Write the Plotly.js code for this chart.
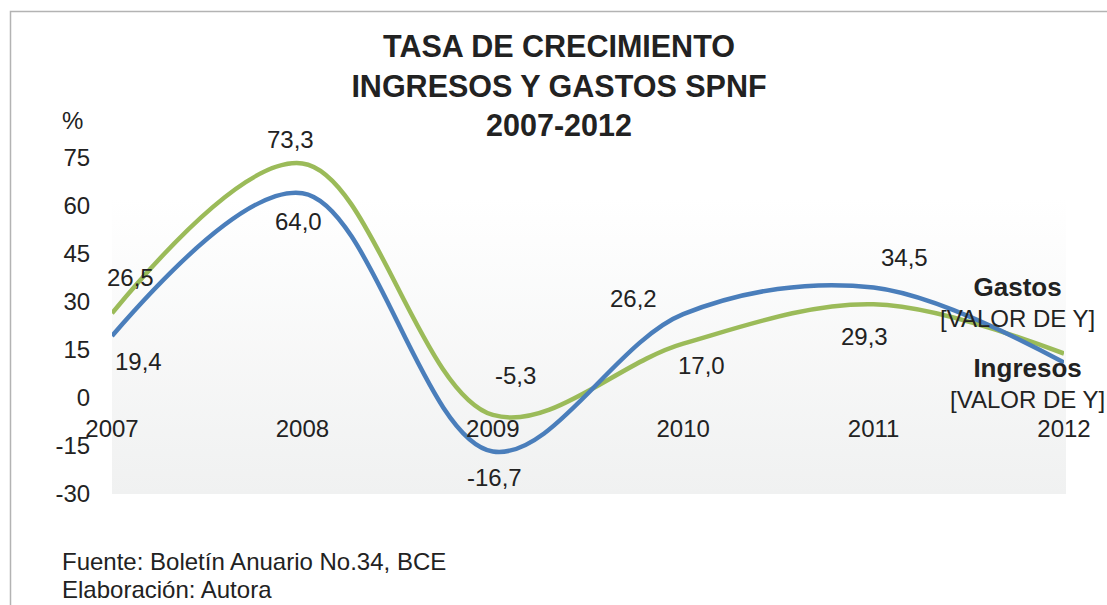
<!DOCTYPE html>
<html>
<head>
<meta charset="utf-8">
<script src="https://cdn.plot.ly/plotly-3.0.1.min.js"></script>
<style>html,body{margin:0;padding:0;background:#fff;}#chart{width:1107px;height:605px;}</style>
</head>
<body>
<div id="chart"></div>
<script>
// ---- data ----
const years = ["2007", "2008", "2009", "2010", "2011", "2012"];
const gastos = [26.5, 73.3, -5.3, 17.0, 29.3, 13.9];     // green
const ingresos = [19.4, 64.0, -16.7, 26.2, 34.5, 11.1];  // blue
const gastosLabels = ["26,5", "73,3", "-5,3", "17,0", "29,3",
  "<span style='font-size:26px'><b>Gastos</b></span><br>[VALOR DE Y]"];
const ingresosLabels = ["19,4", "64,0", "-16,7", "26,2", "34,5",
  "<span style='font-size:26px'><b>Ingresos</b></span><br>[VALOR DE Y]"];
const yTicks = [-30, -15, 0, 15, 30, 45, 60, 75];
const titleText = "<b>TASA DE CRECIMIENTO<br>INGRESOS Y GASTOS SPNF<br>2007-2012</b>";
const sourceLines = ["Fuente: Boletín Anuario No.34, BCE", "Elaboración: Autora"];

// ---- label offsets (pixels) ----
const gastosOff = [[18, -36], [-12, -24], [23, -39], [18, 22], [-9, 32], [-47, -52]];
const ingresosOff = [[26, 26], [-4, 28], [2, 26], [-50, -16], [31, -30], [-37, 21]];

const TXT = "#222222";
const FONT = "Liberation Sans, Arial, sans-serif";
const FS = 24;
const W = 1107, H = 605;
const L = 112, R = 43, T = 158, B = 111;
const pw = W - L - R, ph = H - T - B;
const px = (x) => (x - L) / pw;
const py = (y) => (H - B - y) / ph;

const traces = [
  {x: years, y: gastos, type: "scatter", mode: "lines", name: "Gastos",
   line: {color: "#9bbb59", width: 4.5, shape: "spline", smoothing: 1}, hoverinfo: "skip"},
  {x: years, y: ingresos, type: "scatter", mode: "lines", name: "Ingresos",
   line: {color: "#4a7ebb", width: 4.5, shape: "spline", smoothing: 1}, hoverinfo: "skip"}
];

const annotations = [];
years.forEach((yr, i) => {
  // category index i locates the year on the category axis
  annotations.push({x: i, y: gastos[i], xref: "x", yref: "y", text: gastosLabels[i], showarrow: false,
    xshift: gastosOff[i][0], yshift: -gastosOff[i][1], font: {size: FS, color: TXT, family: FONT}});
  annotations.push({x: i, y: ingresos[i], xref: "x", yref: "y", text: ingresosLabels[i], showarrow: false,
    xshift: ingresosOff[i][0], yshift: -ingresosOff[i][1], font: {size: FS, color: TXT, family: FONT}});
});
annotations.push({xref: "paper", yref: "paper", x: px(72), y: py(121), text: "%", showarrow: false,
  font: {size: FS, color: TXT, family: FONT}, xanchor: "center", yanchor: "middle"});
annotations.push({xref: "paper", yref: "paper", x: px(60), y: py(561), text: sourceLines[0], showarrow: false,
  font: {size: FS, color: TXT, family: FONT}, xanchor: "left", yanchor: "middle"});
annotations.push({xref: "paper", yref: "paper", x: px(60), y: py(589), text: sourceLines[1], showarrow: false,
  font: {size: FS, color: TXT, family: FONT}, xanchor: "left", yanchor: "middle"});

const grad = "<svg xmlns='http://www.w3.org/2000/svg' width='10' height='100' preserveAspectRatio='none'>" +
  "<defs><linearGradient id='g' x1='0' y1='0' x2='0' y2='1'>" +
  "<stop offset='0' stop-color='#ffffff'/><stop offset='0.12' stop-color='#ffffff'/>" +
  "<stop offset='1' stop-color='#f0f1f1'/></linearGradient></defs>" +
  "<rect width='10' height='100' fill='url(#g)'/></svg>";

const layout = {
  width: W, height: H,
  margin: {l: L, r: R, t: T, b: B, pad: 0},
  paper_bgcolor: "#ffffff",
  plot_bgcolor: "rgba(0,0,0,0)",
  showlegend: false,
  font: {family: FONT, color: TXT, size: FS},
  title: {text: titleText, xref: "container", yref: "container", x: 559 / W, xanchor: "center",
    y: 1 - 57 / H, yanchor: "top", font: {size: 30.5, color: TXT, family: FONT}},
  xaxis: {type: "category", range: [0, 5], anchor: "free", position: 30 / 105,
    showgrid: false, zeroline: false, showline: false,
    ticks: "outside", ticklen: 9, tickcolor: "rgba(0,0,0,0)",
    tickfont: {size: FS, color: TXT, family: FONT}, fixedrange: true},
  yaxis: {range: [-30, 75], tickvals: yTicks, ticktext: yTicks.map(String),
    showgrid: false, zeroline: false, showline: false,
    ticks: "outside", ticklen: 16, tickcolor: "rgba(0,0,0,0)",
    tickfont: {size: FS, color: TXT, family: FONT}, fixedrange: true},
  images: [{source: "data:image/svg+xml;charset=utf-8," + encodeURIComponent(grad),
    xref: "paper", yref: "paper", x: 0, y: 1, sizex: px(1066), sizey: 1,
    xanchor: "left", yanchor: "top", sizing: "stretch", layer: "below"}],
  shapes: [{type: "rect", xref: "paper", yref: "paper",
    x0: px(10.5), x1: px(1112), y0: py(612), y1: py(11.5),
    line: {color: "#b3b3b3", width: 1.5}, fillcolor: "rgba(0,0,0,0)", layer: "below"}],
  annotations: annotations
};

Plotly.newPlot("chart", traces, layout, {displayModeBar: false, staticPlot: true});
</script>
</body>
</html>
